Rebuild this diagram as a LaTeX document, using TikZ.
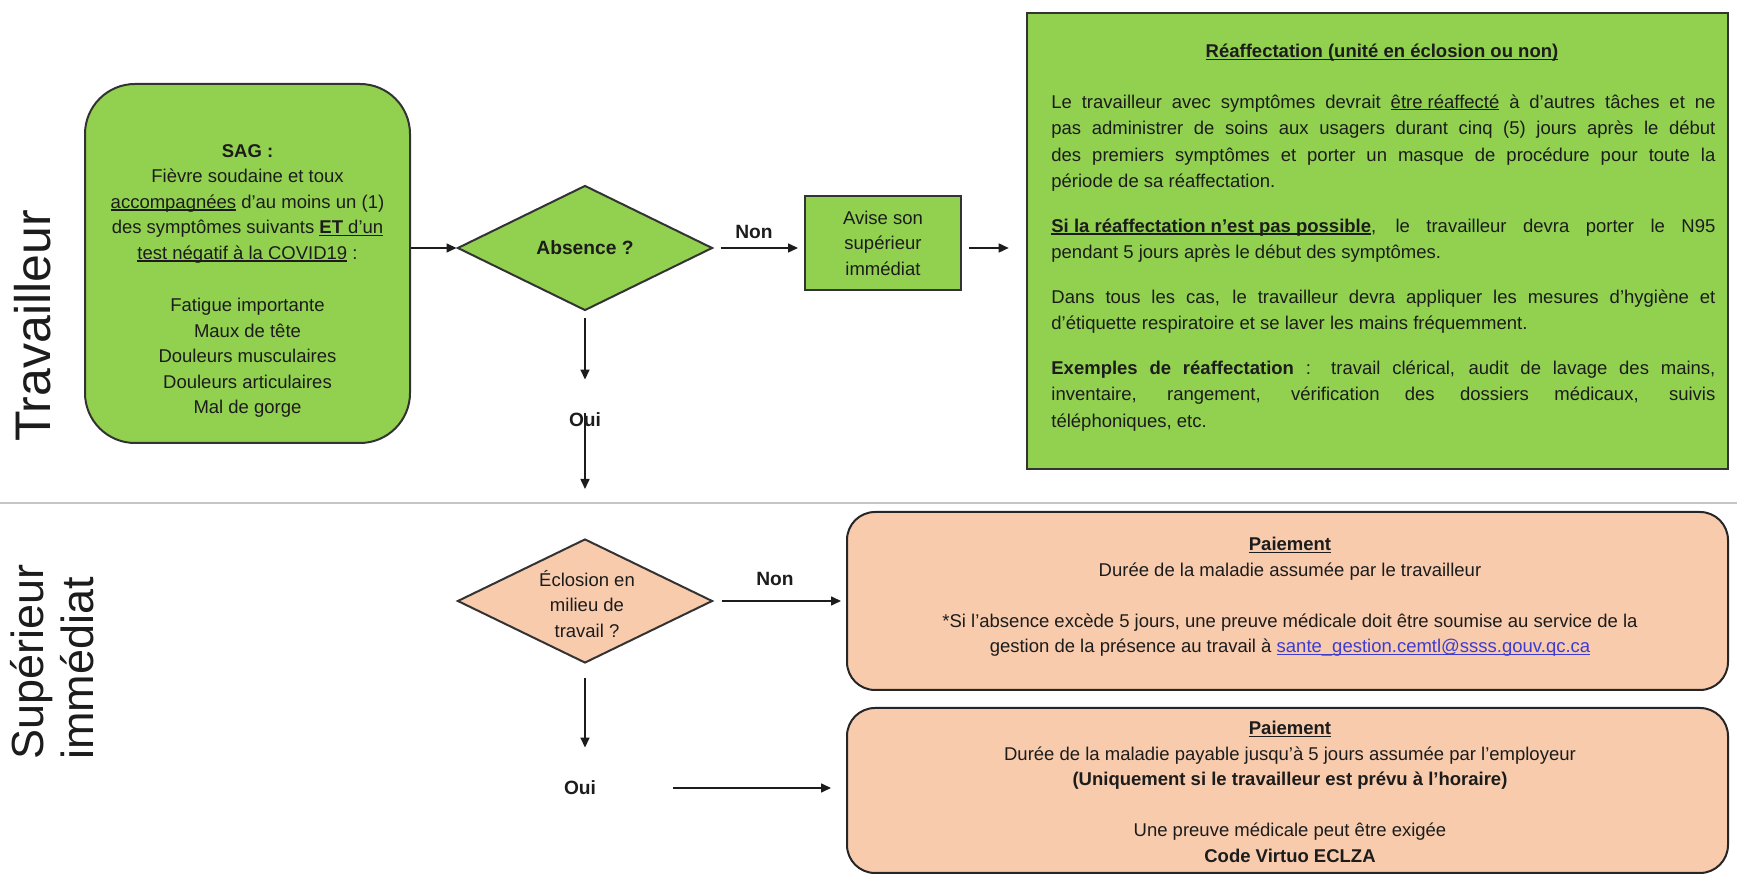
\documentclass[tikz,border=0pt]{standalone}
\usepackage{fontspec}
\setmainfont{Liberation Sans}
\usetikzlibrary{shapes.geometric,arrows.meta}
\definecolor{lgreen}{RGB}{146,208,80}
\definecolor{peach}{RGB}{248,203,173}
\definecolor{linkblue}{RGB}{60,60,210}
\definecolor{ink}{RGB}{28,28,28}
\newcommand\ulx[1]{\leavevmode\setbox0=\hbox{#1}\rlap{\rule[-0.13em]{\wd0}{0.065em}}\box0\relax}
\begin{document}
\begin{tikzpicture}[x=0.5pt,y=-0.5pt,
  every node/.style={inner sep=0pt},
  gbox/.style={draw=black!80, line width=1pt, fill=lgreen},
  pbox/.style={draw=black!85, line width=1pt, fill=peach, rounded corners=14pt},
  dia/.style={diamond, draw=black!80, line width=1pt, aspect=2},
  arr/.style={-{Triangle[length=5pt,width=4.5pt]}, line width=0.8pt, draw=ink},
  lbl/.style={font=\fontsize{9.6pt}{12pt}\selectfont\bfseries, text=ink},
  body/.style={font=\fontsize{9.25pt}{12.75pt}\selectfont, text=ink},
  lane/.style={rotate=90, text=ink}]
\useasboundingbox (0,0) rectangle (1737,876);

% lanes
\draw[gray!45, line width=0.8pt] (0,503) -- (1737,503);
\node[lane, font=\fontsize{25pt}{30pt}\selectfont] (lanew) at (32.5,326) {Travailleur};
\node[lane, font=\fontsize{22.5pt}{25pt}\selectfont, align=left, anchor=west] (lanes) at (52,760) {Supérieur\\immédiat};

% SAG
\node[gbox, rounded corners=25pt, minimum width=162.5pt, minimum height=179.5pt] (sag) at (247.5,263.5) {};
\node[body, align=center] (sagtxt) at (247.5,281) {\textbf{SAG :}\\
Fièvre soudaine et toux\\
\ulx{accompagnées} d’au moins un (1)\\
des symptômes suivants \ulx{\textbf{ET} d’un}\\
\ulx{test négatif à la COVID19} :\\[13.5pt]
Fatigue importante\\
Maux de tête\\
Douleurs musculaires\\
Douleurs articulaires\\
Mal de gorge};

% Absence diamond
\node[dia, fill=lgreen, minimum width=127.5pt, minimum height=62.5pt, lbl] (absence) at (585,248) {Absence ?};

% Avise
\node[gbox, minimum width=78pt, minimum height=47pt, body, align=center] (avise) at (883,243) {Avise son\\supérieur\\immédiat};

% Reaffectation box
\node[gbox, line width=1.3pt, minimum width=350.5pt, minimum height=228pt] (reaf) at (1377.5,241) {};
\node[body] (reaftitle) at (1382,53) {\ulx{\textbf{Réaffectation (unité en éclosion ou non)}}};
\node[body, font=\fontsize{9.25pt}{13.3pt}\selectfont, text width=332pt, align=justify, anchor=north west] (reaftxt) at (1051,94) {\hyphenpenalty=10000
Le travailleur avec symptômes devrait \ulx{être réaffecté} à d’autres tâches et ne\linebreak
pas administrer de soins aux usagers durant cinq (5) jours après le début\linebreak
des premiers symptômes et porter un masque de procédure pour toute la\linebreak
période de sa réaffectation.\par\vspace{8.9pt}
\ulx{\textbf{Si la réaffectation n’est pas possible}}, le travailleur devra porter le N95\linebreak
pendant 5 jours après le début des symptômes.\par\vspace{8.9pt}
Dans tous les cas, le travailleur devra appliquer les mesures d’hygiène et\linebreak
d’étiquette respiratoire et se laver les mains fréquemment.\par\vspace{8.9pt}
\textbf{Exemples de réaffectation} : travail clérical, audit de lavage des mains,\linebreak
inventaire, rangement, vérification des dossiers médicaux, suivis\linebreak
téléphoniques, etc.\par};

% Eclosion diamond
\node[dia, fill=peach, minimum width=127.5pt, minimum height=62pt] (eclosion) at (585,601) {};
\node[body, align=center] (ecltxt) at (587,604) {Éclosion en\\milieu de\\travail ?};

% Paiement boxes
\node[pbox, minimum width=440.5pt, minimum height=89pt] (pay1) at (1287.5,601) {};
\node[body, align=center] (pay1txt) at (1290,597) {\ulx{\textbf{Paiement}}\\
Durée de la maladie assumée par le travailleur\\[12.75pt]
*Si l’absence excède 5 jours, une preuve médicale doit être soumise au service de la\\
gestion de la présence au travail à {\color{linkblue}\ulx{sante\_gestion.cemtl@ssss.gouv.qc.ca}}};

\node[pbox, minimum width=440.5pt, minimum height=82.5pt] (pay2) at (1287.5,790.5) {};
\node[body, align=center] (pay2txt) at (1290,792) {\ulx{\textbf{Paiement}}\\
Durée de la maladie payable jusqu’à 5 jours assumée par l’employeur\\
\textbf{(Uniquement si le travailleur est prévu à l’horaire)}\\[12.75pt]
Une preuve médicale peut être exigée\\
\textbf{Code Virtuo ECLZA}};

% labels
\node[lbl] (non1) at (754,232) {Non};
\node[lbl] (oui1) at (585,420) {Oui};
\node[lbl] (non2) at (775,579) {Non};
\node[lbl] (oui2) at (580,788) {Oui};

% connectors
\draw[arr] (sag.east |- absence.west) -- (absence.west);
\draw[arr, shorten <=3.5pt, shorten >=3pt] (absence.east) -- (avise.west |- absence.east);
\draw[arr, shorten <=3.5pt, shorten >=8.5pt] (avise.east |- absence.east) -- (reaf.west |- absence.east);
\draw[arr, shorten <=3.5pt, shorten >=16.5pt] (absence.south) -- (oui1.north);
\draw[arr, shorten >=24.5pt] (oui1.north) -- (eclosion.north);
\draw[arr, shorten <=4pt, shorten >=2.5pt] (eclosion.east) -- (pay1.west);
\draw[arr, shorten <=7pt, shorten >=16.5pt] (eclosion.south) -- (eclosion.south |- oui2.north);
\draw[arr, shorten <=38.5pt, shorten >=7.5pt] (oui2.east) -- (pay2.west |- oui2.east);
\end{tikzpicture}
\end{document}
